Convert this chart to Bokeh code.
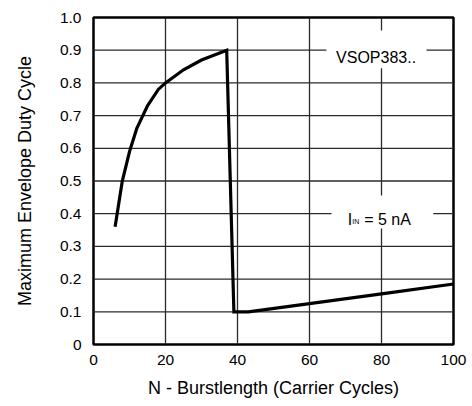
from bokeh.plotting import figure
from bokeh.models import Range1d, FixedTicker, Label
from bokeh.embed import file_html
from bokeh.resources import INLINE

# ---- data ----
burst_n = [6, 8, 10, 12, 15, 18, 20, 25, 30, 37, 39, 43, 60, 80, 100]
duty = [0.36, 0.50, 0.59, 0.66, 0.73, 0.78, 0.80, 0.84, 0.87, 0.90, 0.10, 0.10, 0.125, 0.155, 0.185]

x_ticks = [0, 20, 40, 60, 80, 100]
x_tick_labels = ["0", "20", "40", "60", "80", "100"]
y_ticks = [0, 0.1, 0.2, 0.3, 0.4, 0.5, 0.6, 0.7, 0.8, 0.9, 1.0]
y_tick_labels = ["0", "0.1", "0.2", "0.3", "0.4", "0.5", "0.6", "0.7", "0.8", "0.9", "1.0"]

FONT = "Liberation Sans"
X_MIN, X_MAX = x_ticks[0], x_ticks[-1]
Y_MIN, Y_MAX = y_ticks[0], y_ticks[-1]

p = figure(width=470, height=404, output_backend="svg", toolbar_location=None,
           x_range=Range1d(X_MIN, X_MAX), y_range=Range1d(Y_MIN, Y_MAX))
p.min_border_left = 93
p.min_border_right = 17
p.min_border_top = 17
p.min_border_bottom = 60
p.outline_line_color = "black"
p.outline_line_width = 2.5
p.xgrid.visible = False
p.ygrid.visible = False

p.xaxis.ticker = FixedTicker(ticks=x_ticks)
p.yaxis.ticker = FixedTicker(ticks=y_ticks)
p.xaxis.major_label_overrides = {t: l for t, l in zip(x_ticks, x_tick_labels)}
p.yaxis.major_label_overrides = {t: l for t, l in zip(y_ticks, y_tick_labels)}

for ax in (p.xaxis[0], p.yaxis[0]):
    ax.axis_line_color = None
    ax.major_tick_line_color = None
    ax.minor_tick_line_color = None
    ax.major_tick_out = 0
    ax.major_tick_in = 0
    ax.major_label_text_font = FONT
    ax.major_label_text_font_size = "15.5px"
    ax.major_label_text_color = "black"
    ax.axis_label_text_font = FONT
    ax.axis_label_text_font_size = "18px"
    ax.axis_label_text_font_style = "normal"
    ax.axis_label_text_color = "black"

p.xaxis.major_label_standoff = 10
p.yaxis.major_label_standoff = 12
p.xaxis.axis_label = "N - Burstlength (Carrier Cycles)"
p.yaxis.axis_label = "Maximum Envelope Duty Cycle"
p.xaxis.axis_label_standoff = 10
p.yaxis.axis_label_standoff = 22

# grid drawn as thin filled rectangles at the tick positions
vx = x_ticks[1:-1]
p.rect(x=vx, y=[(Y_MIN + Y_MAX) / 2] * len(vx), width=1.3, height=Y_MAX - Y_MIN,
       width_units="screen", fill_color="#2a2a2a", line_color=None)
hy = y_ticks[1:-1]
p.rect(x=[(X_MIN + X_MAX) / 2] * len(hy), y=hy, width=X_MAX - X_MIN, height=1.3,
       height_units="screen", fill_color="#2a2a2a", line_color=None)

# white boxes that interrupt the grid behind the annotations
p.quad(left=[64.7, 66.1], right=[92.5, 94.4], bottom=[0.845, 0.355],
       top=[0.96, 0.456], fill_color="white", line_color=None)

p.line(burst_n, duty, line_color="black", line_width=3.2, line_join="miter")

p.add_layout(Label(x=78.5, y=0.878, text="VSOP383..", text_align="center",
                   text_baseline="alphabetic", text_font=FONT,
                   text_font_size="16px", text_color="black"))
p.add_layout(Label(x=70.6, y=0.382, text="I", text_align="left",
                   text_baseline="alphabetic", text_font=FONT,
                   text_font_size="16px", text_color="black"))
p.add_layout(Label(x=70.6, y=0.382, x_offset=4.6, y_offset=-2, text="IN",
                   text_align="left", text_baseline="alphabetic", text_font=FONT,
                   text_font_size="7px", text_color="black"))
p.add_layout(Label(x=75.2, y=0.382, text="= 5 nA", text_align="left",
                   text_baseline="alphabetic", text_font=FONT,
                   text_font_size="16px", text_color="black"))

open("out.html", "w").write(file_html(p, INLINE))
